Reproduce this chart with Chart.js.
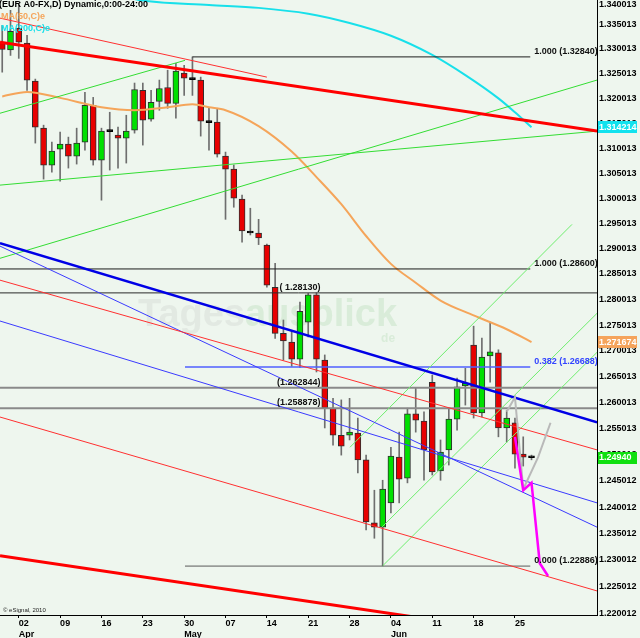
<!DOCTYPE html>
<html lang="en">
<head>
<meta charset="UTF-8">
<title>EUR A0-FX daily</title>
<script src="https://cdn.jsdelivr.net/npm/chart.js"></script>
<style>
  html, body { margin: 0; padding: 0; background: #eef6ee; }
  #wrap { position: relative; width: 640px; height: 638px; }
</style>
</head>
<body>
<div id="wrap"><canvas id="chart" width="640" height="638"></canvas></div>
<script>
// daily bars, index 0 = 29 Mar ... 64 = 27 Jun
const openP  = [1.3314,1.3298,1.3342,1.3312,1.3235,1.3140,1.3066,1.3098,1.3108,1.3084,
                1.3112,1.3186,1.3076,1.3133,1.3126,1.3120,1.3136,1.3216,1.3158,1.3194,
                1.3222,1.3190,1.3251,1.3240,1.3237,1.3153,1.3152,1.3084,1.3058,1.2998,
                1.2932,1.2931,1.2907,1.2824,1.2734,1.2717,1.2684,1.2756,1.2809,1.2682,
                1.2589,1.2537,1.2537,1.2541,1.2490,1.2370,1.2362,1.2408,1.2495,1.2455,
                1.2578,1.2564,1.2639,1.2469,1.2509,1.2568,1.2632,1.2711,1.2580,1.2690,
                1.2696,1.2551,1.2561,1.2501,1.2496];
const highP  = [1.3348,1.3379,1.3389,1.3328,1.3239,1.3146,1.3112,1.3132,1.3122,1.3140,
                1.3212,1.3202,1.3140,1.3172,1.3142,1.3166,1.3231,1.3231,1.3216,1.3237,
                1.3257,1.3271,1.3267,1.3284,1.3243,1.3180,1.3180,1.3092,1.3066,1.3006,
                1.2980,1.2958,1.2909,1.2871,1.2760,1.2740,1.2795,1.2812,1.2813,1.2692,
                1.2608,1.2605,1.2608,1.2570,1.2499,1.2432,1.2451,1.2514,1.2543,1.2589,
                1.2628,1.2582,1.2653,1.2528,1.2589,1.2647,1.2666,1.2748,1.2725,1.2756,
                1.2702,1.2585,1.2570,1.2534,1.2499];
const lowP   = [1.3253,1.3287,1.3281,1.3216,1.3110,1.3038,1.3052,1.3034,1.3060,1.3068,
                1.3096,1.3066,1.2996,1.3056,1.3060,1.3070,1.3130,1.3106,1.3154,1.3176,
                1.3180,1.3160,1.3206,1.3206,1.3124,1.3096,1.3082,1.2958,1.2982,1.2913,
                1.2927,1.2908,1.2824,1.2724,1.2682,1.2670,1.2668,1.2727,1.2659,1.2551,
                1.2518,1.2499,1.2528,1.2465,1.2357,1.2341,1.2289,1.2389,1.2408,1.2446,
                1.2543,1.2451,1.2461,1.2451,1.2480,1.2547,1.2595,1.2570,1.2572,1.2639,
                1.2534,1.2524,1.2474,1.2478,1.2490];
const closeP = [1.3299,1.3336,1.3314,1.3237,1.3142,1.3066,1.3094,1.3108,1.3084,1.3110,
                1.3186,1.3076,1.3134,1.3135,1.3120,1.3134,1.3218,1.3156,1.3192,1.3220,
                1.3190,1.3255,1.3241,1.3238,1.3154,1.3151,1.3088,1.3058,1.3000,1.2935,
                1.2931,1.2921,1.2828,1.2734,1.2719,1.2684,1.2777,1.2809,1.2684,1.2589,
                1.2537,1.2516,1.2543,1.2490,1.2372,1.2362,1.2434,1.2497,1.2453,1.2578,
                1.2566,1.2509,1.2467,1.2505,1.2568,1.2630,1.2637,1.2580,1.2688,1.2698,
                1.2551,1.2570,1.2501,1.2495,1.2494];

// moving averages [barIndex, value]
const ma50Pts  = [[0,1.3204],[3,1.3213],[7,1.3201],[12,1.3182],[16,1.3176],[20,1.3182],[23,1.3188],
                  [25,1.3182],[27,1.3176],[31,1.3144],[35,1.3093],[38,1.3042],[41,1.2988],[44,1.2925],
                  [47,1.2870],[50,1.2833],[53,1.2798],[57,1.2769],[61,1.2742],[64,1.2717]];
const ma200Pts = [[14,1.3410],[17,1.3399],[25,1.3390],[31,1.3384],[37,1.3372],[42,1.3353],[47,1.3327],
                  [52,1.3288],[56,1.3247],[60,1.3200],[62,1.3172],[64,1.3142]];

// drawn trend lines [[barIndex, price], [barIndex, price]]
const redThick   = [[[-0.27,1.3314],[71.92,1.3134]], [[-0.27,1.2308],[71.92,1.2143]]];
const redThin    = [[[-0.27,1.3363],[32,1.3243]], [[-0.27,1.2838],[71.92,1.2509]], [[-0.27,1.2572],[71.92,1.2242]]];
const blueThick  = [[-0.27,1.2911],[71.92,1.2562]];
const blueThin   = [[[-0.27,1.2905],[71.92,1.2362]], [[-0.27,1.2758],[71.92,1.2408]]];
const greenLines = [[[-0.27,1.3170],[22.1,1.3277]], [[-0.27,1.2881],[71.92,1.3237]], [[-0.27,1.3026],[71.92,1.3134]]];
const channel    = [[[42.05,1.2514],[68.9,1.2948]], [[45.9,1.2362],[71.92,1.2773]], [[46,1.2289],[71.92,1.2697]]];
const pinkPath   = [[62,1.2534],[63,1.2432],[64,1.2446],[65,1.2294],[66,1.2270]];
const greyPath   = [[61,1.2582],[62,1.2610],[63,1.2434],[64.8,1.2495],[66.3,1.2561]];

// fibonacci levels
const fibLevels = [1.32840, 1.28600, 1.26688, 1.22886];
const fibNames  = ['1.000', '1.000', '0.382', '0.000'];
const fibFrom   = [23, -0.27, 22.1, 22.1];
const fibTo     = 63.85;
const fibColors = ['#1c1c1c', '#1c1c1c', '#4f5fff', '#5a5a5a'];
// full width levels
const levelVals = [1.28130, 1.262844, 1.258878];
const levelText = ['( 1.28130)', '(1.262844)', '(1.258878)'];
const levelColors = ['#2a2a2a', '#8a8a8a', '#8a8a8a'];
const levelWidths = [1, 2, 2];

// axes
const xMin = -0.27, xMax = 71.92;
const xTickIdx   = [2, 7, 12, 17, 22, 27, 32, 37, 42, 47, 52, 57, 62];
const xTickDay   = ['02','09','16','23','30','07','14','21','28','04','11','18','25'];
const xTickMonth = ['Apr','','','','May','','','','','Jun','','',''];
const yMin = 1.2197, yMax = 1.340013;
const yTicks = [1.220012,1.225012,1.230012,1.235012,1.240012,1.245012,1.250013,1.255013,1.260013,
                1.265013,1.270013,1.275013,1.280013,1.285013,1.290013,1.295013,1.300013,1.305013,
                1.310013,1.315013,1.320013,1.325013,1.330013,1.335013,1.340013];

// price tags on the right axis
const tagValues = [1.314214, 1.271674, 1.24940];
const tagLabels = ['1.314214', '1.271674', '1.24940'];
const tagColors = ['#12e2ee', '#f5a45c', '#10e010'];

const FONT = '"Liberation Sans", Arial, sans-serif';

function seg(pts, color, width, order, dash) {
  return {
    type: 'line',
    data: pts.map(p => ({x: p[0], y: p[1]})),
    borderColor: color, borderWidth: width, borderDash: dash || [],
    pointRadius: 0, fill: false, tension: 0, clip: 0, order: order
  };
}

const isDoji = openP.map((o, i) => Math.abs(closeP[i] - o) < 0.0003);
const bodyColor = openP.map((o, i) => isDoji[i] ? '#000000' : (closeP[i] > o ? '#00e000' : '#e80000'));
const bodyBorder = isDoji.map(d => d ? '#000000' : '#2e2e2e');

const datasets = [
  {
    type: 'bar', data: highP.map((h, i) => ({x: i, y: [lowP[i], h]})),
    backgroundColor: '#6e6e6e', barThickness: 1, grouped: false, order: 30
  },
  {
    type: 'bar', data: openP.map((o, i) => ({x: i, y: [o, closeP[i]]})),
    backgroundColor: bodyColor, borderColor: bodyBorder, borderWidth: 1, borderSkipped: false,
    barThickness: 6, minBarLength: 2, grouped: false, order: 29
  },
  Object.assign(seg(ma50Pts, '#f5a55a', 2, 10), {cubicInterpolationMode: 'monotone'}),
  Object.assign(seg(ma200Pts, '#18e0ea', 2, 10), {cubicInterpolationMode: 'monotone'})
];
fibLevels.forEach((lv, k) => datasets.push(seg([[fibFrom[k], lv], [fibTo, lv]], fibColors[k], k === 2 ? 1.5 : 1, 8)));
levelVals.forEach((lv, k) => datasets.push(seg([[xMin, lv], [xMax, lv]], levelColors[k], levelWidths[k], 8)));
greenLines.forEach(l => datasets.push(seg(l, '#33dd33', 1, 6)));
channel.forEach(l => datasets.push(seg(l, '#6fee6f', 1, 6)));
redThin.forEach(l => datasets.push(seg(l, '#ff3030', 1, 5)));
blueThin.forEach(l => datasets.push(seg(l, '#3a3aff', 1, 5)));
datasets.push(seg(blueThick, '#0000e6', 2.5, 4));
redThick.forEach(l => datasets.push(seg(l, '#ff0000', 3, 3)));
datasets.push(seg(greyPath, '#b9b9b9', 2, 2));
datasets.push(seg(pinkPath, '#ff00ff', 2.5, 1));

const overlay = {
  id: 'overlay',
  beforeDraw(chart) {
    const {ctx, width, height} = chart;
    ctx.save();
    ctx.fillStyle = '#eef6ee';
    ctx.fillRect(0, 0, width, height);
    ctx.restore();
  },
  beforeDatasetsDraw(chart) {
    // faint watermark
    const {ctx} = chart;
    ctx.save();
    ctx.font = 'bold 38px ' + FONT;
    ctx.textBaseline = 'alphabetic';
    ctx.fillStyle = '#e2e9e2';
    ctx.fillText('Tages', 138, 326);
    const w = ctx.measureText('Tages').width;
    ctx.fillStyle = '#d9ecd9';
    ctx.fillText('ausblick', 138 + w, 326);
    const w2 = ctx.measureText('ausblick').width;
    ctx.font = 'bold 12px ' + FONT;
    ctx.fillText('de', 138 + w + w2 - 16, 342);
    ctx.restore();
  },
  afterDatasetsDraw(chart) {
    const {ctx, chartArea: a, scales: {x, y}} = chart;
    ctx.save();
    ctx.beginPath();
    ctx.rect(a.left, a.top, a.right - a.left, a.bottom - a.top);
    ctx.clip();
    ctx.font = 'bold 9px ' + FONT;
    ctx.textBaseline = 'bottom';
    ctx.textAlign = 'left';
    fibLevels.forEach((lv, k) => {
      ctx.fillStyle = k === 2 ? '#3344ff' : '#111';
      ctx.fillText(fibNames[k] + ' (' + lv.toFixed(5) + ')', x.getPixelForValue(fibTo) + 4, y.getPixelForValue(lv) - 1);
    });
    ctx.textAlign = 'right';
    ctx.fillStyle = '#111';
    levelVals.forEach((lv, k) => {
      ctx.fillText(levelText[k], x.getPixelForValue(38.5), y.getPixelForValue(lv) - 1);
    });
    ctx.restore();
  },
  afterDraw(chart) {
    const {ctx, chartArea: a, scales: {y}} = chart;
    ctx.save();
    ctx.font = 'bold 9px ' + FONT;
    ctx.textBaseline = 'middle';
    ctx.textAlign = 'left';
    // top axis label kept inside the canvas
    ctx.fillStyle = '#000';
    ctx.fillText(yTicks[yTicks.length - 1].toFixed(6), a.right + 2, Math.max(y.getPixelForValue(yTicks[yTicks.length - 1]), 5));
    // last value tags
    tagValues.forEach((v, k) => {
      const py = y.getPixelForValue(v);
      ctx.fillStyle = tagColors[k];
      ctx.fillRect(a.right + 1, Math.round(py) - 6, 39, 12);
      ctx.fillStyle = '#ffffff';
      ctx.fillText(tagLabels[k], a.right + 2, py);
    });
    // study legend
    ctx.fillStyle = '#000';
    ctx.fillText('(EUR A0-FX,D) Dynamic,0:00-24:00', -1, 5);
    ctx.fillStyle = '#f5a55a';
    ctx.fillText('MA(50,C)e', 1, 17);
    ctx.fillStyle = '#18e0ea';
    ctx.fillText('MA(200,C)e', 1, 29);
    ctx.font = '6px ' + FONT;
    ctx.fillStyle = '#222';
    ctx.fillText('\u00a9 eSignal, 2010', 3, a.bottom - 5);
    ctx.restore();
  }
};

new Chart(document.getElementById('chart'), {
  type: 'bar',
  data: {datasets: datasets},
  options: {
    responsive: false,
    animation: false,
    devicePixelRatio: 1,
    layout: {padding: 0},
    plugins: {legend: {display: false}, tooltip: {enabled: false}},
    scales: {
      x: {
        type: 'linear', min: xMin, max: xMax, offset: false, bounds: 'data',
        afterBuildTicks: s => { s.ticks = xTickIdx.map(v => ({value: v})); },
        afterFit: s => { s.height = 23; s.paddingLeft = 0; s.paddingRight = 0; },
        ticks: {
          callback: (v, i) => xTickMonth[i] ? [xTickDay[i], xTickMonth[i]] : xTickDay[i],
          align: 'start', maxRotation: 0, autoSkip: false, padding: 0, color: '#000',
          font: {family: FONT, size: 9, weight: 'bold', lineHeight: 1.25}
        },
        grid: {drawOnChartArea: false, tickLength: 3, color: '#000', offset: false},
        border: {color: '#000', width: 1}
      },
      y: {
        type: 'logarithmic', position: 'right', min: yMin, max: yMax, bounds: 'data',
        afterBuildTicks: s => { s.ticks = yTicks.map(v => ({value: v})); },
        afterFit: s => { s.width = 43; s.paddingTop = 0; s.paddingBottom = 0; },
        ticks: {
          callback: v => v > 1.3395 ? '' : v.toFixed(6),
          autoSkip: false, padding: 2, color: '#000',
          font: {family: FONT, size: 9, weight: 'bold'}
        },
        grid: {drawOnChartArea: false, drawTicks: false},
        border: {color: '#000', width: 1}
      }
    }
  },
  plugins: [overlay]
});
</script>
</body>
</html>
